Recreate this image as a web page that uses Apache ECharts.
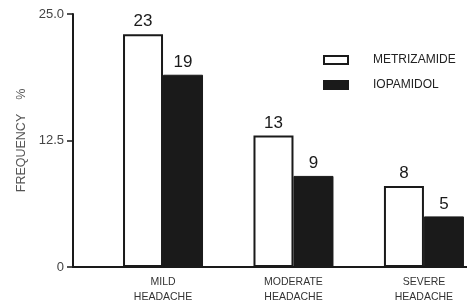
<!DOCTYPE html>
<html>
<head>
<meta charset="utf-8">
<script src="https://cdn.jsdelivr.net/npm/echarts@6/dist/echarts.min.js"></script>
<style>
  html, body { margin: 0; padding: 0; background: #fff; }
  #chart { width: 467px; height: 305px; }
</style>
</head>
<body>
<div id="chart"></div>
<script>
var categories = ["MILD\nHEADACHE", "MODERATE\nHEADACHE", "SEVERE\nHEADACHE"];
var metrizamide = [23, 13, 8];
var iopamidol = [19, 9, 5];
var yTicks = [0, 12.5, 25];

function toPoints(values) {
  return values.map(function (v, i) { return [i + 1, v]; });
}

var chart = echarts.init(document.getElementById("chart"));
chart.setOption({
  backgroundColor: "#fff",
  animation: false,
  textStyle: { fontFamily: "Liberation Sans, Arial, sans-serif" },
  grid: { left: 73, right: 0, top: 14, bottom: 38, containLabel: false },
  legend: {
    orient: "vertical",
    left: 318,
    top: 49,
    icon: "rect",
    itemWidth: 24,
    itemHeight: 8,
    itemGap: 13,
    textStyle: { color: "#222", fontSize: 12, padding: [0, 0, 0, 20] },
    data: ["METRIZAMIDE", "IOPAMIDOL"]
  },
  xAxis: {
    type: "value",
    min: 0.31,
    max: 3.33,
    splitLine: { show: false },
    axisLine: { show: true, onZero: false, lineStyle: { color: "#1a1a1a", width: 2 } },
    axisTick: { show: false },
    axisLabel: {
      customValues: [1, 2, 3],
      color: "#333",
      fontSize: 10.5,
      lineHeight: 15,
      margin: 8,
      formatter: function (v) { return categories[Math.round(v) - 1] || ""; }
    }
  },
  yAxis: {
    type: "value",
    min: 0,
    max: 25,
    interval: 12.5,
    name: "FREQUENCY    %",
    nameLocation: "middle",
    nameRotate: 90,
    nameGap: 45,
    nameTextStyle: { color: "#555", fontSize: 12.5 },
    splitLine: { show: false },
    axisLine: { show: true, lineStyle: { color: "#1a1a1a", width: 2 } },
    axisTick: { show: true, length: 6, lineStyle: { color: "#1a1a1a", width: 1.5 } },
    axisLabel: {
      color: "#444",
      fontSize: 13,
      margin: 9,
      formatter: function (v) { return v === yTicks[2] ? "25.0" : String(v); }
    }
  },
  series: [
    {
      name: "METRIZAMIDE",
      type: "bar",
      data: toPoints(metrizamide),
      barWidth: 40,
      barGap: "0%",
      itemStyle: { color: "#fff", borderColor: "#1a1a1a", borderWidth: 2 },
      label: { show: true, position: "top", distance: 4, color: "#1a1a1a", fontSize: 17,
        formatter: function (p) { return p.value[1]; } }
    },
    {
      name: "IOPAMIDOL",
      type: "bar",
      data: toPoints(iopamidol),
      barWidth: 40,
      barGap: "0%",
      itemStyle: { color: "#1a1a1a", borderColor: "#1a1a1a", borderWidth: 1 },
      label: { show: true, position: "top", distance: 4, color: "#1a1a1a", fontSize: 17,
        formatter: function (p) { return p.value[1]; } }
    }
  ]
});
</script>
</body>
</html>
